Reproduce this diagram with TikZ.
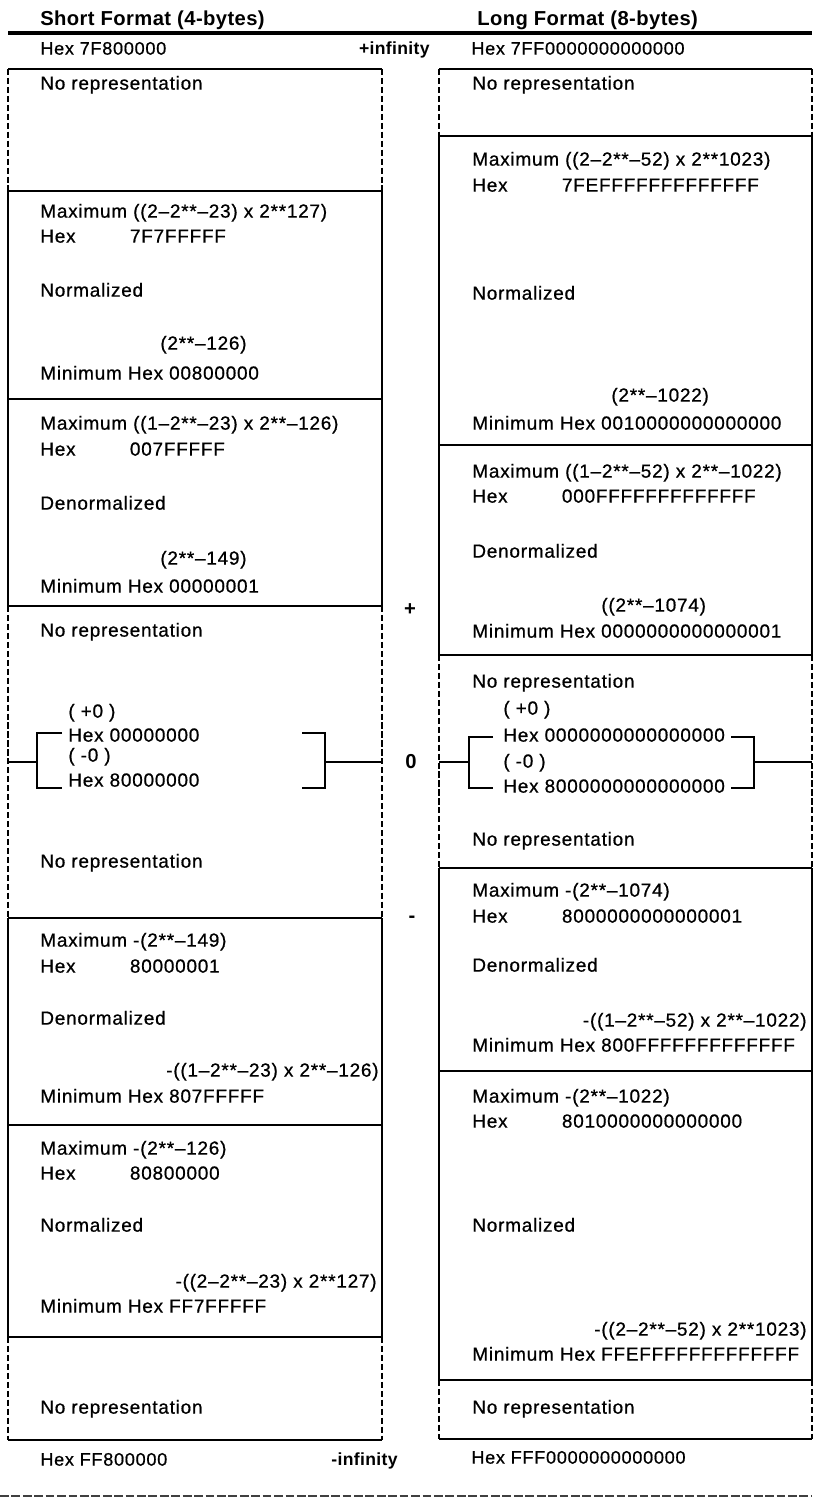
\documentclass[tikz,border=0pt]{standalone}
\usepackage{fontspec}
\usepackage{tikz}
\setmainfont{Liberation Sans}
\newfontfamily\boxfamily[LetterSpace=4, FakeBold=0.7]{Liberation Sans}
\newfontfamily\headfamily[LetterSpace=2]{Liberation Sans}
\newcommand{\boxsize}{\boxfamily\fontsize{10.8pt}{13pt}\selectfont}
\newcommand{\edgesize}{\boxfamily\fontsize{10.3pt}{12pt}\selectfont}
\newcommand{\headsize}{\headfamily\bfseries\fontsize{11.5pt}{14pt}\selectfont}
\newcommand{\signsize}{\headfamily\bfseries\fontsize{10pt}{12pt}\selectfont}
\newcommand{\bigsignsize}{\headfamily\bfseries\fontsize{11.5pt}{13pt}\selectfont}
\newcommand{\hexrow}[1]{\makebox[51pt][l]{Hex}#1}
\tikzset{
  txt/.style={anchor=mid west, inner sep=0pt, font=\boxsize},
  txtr/.style={anchor=mid east, inner sep=0pt, font=\boxsize},
  edgetxt/.style={anchor=mid west, inner sep=0pt, font=\edgesize},
  headtxt/.style={anchor=mid west, inner sep=0pt, font=\headsize},
  signtxt/.style={inner sep=0pt, font=\bigsignsize},
  inftxt/.style={anchor=mid east, inner sep=0pt, font=\signsize},
  solidline/.style={line width=1pt},
  dashline/.style={line width=1pt, dash pattern=on 3.5pt off 1.6pt},
}

\begin{document}
\begin{tikzpicture}[x=0.02cm, y=-0.02cm]%
\useasboundingbox (0,0) rectangle (812,1500);%
% headings
\node[headtxt] (shortHead) at (40,21) {Short Format (4-bytes)};%
\node[headtxt] (longHead) at (477,21) {Long Format (8-bytes)};%
\draw[line width=2.4pt] (8,33) -- (812,33);%
\node[edgetxt] (sTopHex) at (40,50) {Hex 7F800000};%
\node[edgetxt] (lTopHex) at (471,50) {Hex 7FF0000000000000};%
\node[inftxt] (plusInf) at (430,50) {+infinity};%
\node[signtxt] (plusSign) at (410,610) {+};%
\node[signtxt] (zeroSign) at (411,762) {0};%
\node[signtxt] (minusSign) at (412,919) {-};%
\node[inftxt] (minusInf) at (398,1461) {-infinity};%
\node[edgetxt] (sBotHex) at (40,1461) {Hex FF800000};%
\node[edgetxt] (lBotHex) at (471,1459) {Hex FFF0000000000000};%
%
% short format boxes
\foreach \y in {69,191,399,606,918,1125,1337,1440}
  \draw[solidline] (8,\y) -- (382,\y);%
\foreach \a/\b in {69/191,606/918,1337/1440} {
  \draw[dashline] (8,\a) -- (8,\b);
  \draw[dashline] (382,\a) -- (382,\b);}%
\foreach \a/\b in {191/606,918/1337} {
  \draw[solidline] (8,\a) -- (8,\b);
  \draw[solidline] (382,\a) -- (382,\b);}%
%
% long format boxes
\foreach \y in {69,136,445,655,868,1071,1380,1439}
  \draw[solidline] (439,\y) -- (812,\y);%
\foreach \a/\b in {69/136,655/868,1380/1439} {
  \draw[dashline] (439,\a) -- (439,\b);
  \draw[dashline] (812,\a) -- (812,\b);}%
\foreach \a/\b in {136/655,868/1380} {
  \draw[solidline] (439,\a) -- (439,\b);
  \draw[solidline] (812,\a) -- (812,\b);}%
%
% short format texts
\node[txt] (sNoRepA) at (40,85) {No representation};%
\node[txt] (sNormMax) at (40,213) {Maximum ((2–2**–23) x 2**127)};%
\node[txt] (sNormMaxHex) at (40,238) {\hexrow{7F7FFFFF}};%
\node[txt] (sNorm) at (40,292) {Normalized};%
\node[txt] (sNormMinVal) at (160,345) {(2**–126)};%
\node[txt] (sNormMin) at (40,375) {Minimum Hex 00800000};%
\node[txt] (sDenMax) at (40,425) {Maximum ((1–2**–23) x 2**–126)};%
\node[txt] (sDenMaxHex) at (40,451) {\hexrow{007FFFFF}};%
\node[txt] (sDen) at (40,505) {Denormalized};%
\node[txt] (sDenMinVal) at (160,560) {(2**–149)};%
\node[txt] (sDenMin) at (40,588) {Minimum Hex 00000001};%
\node[txt] (sNoRepB) at (40,632) {No representation};%
\node[txt] (sPosZero) at (68,713) {( +0 )};%
\node[txt] (sPosZeroHex) at (68,737) {Hex 00000000};%
\node[txt] (sNegZero) at (68,757) {( -0 )};%
\node[txt] (sNegZeroHex) at (68,782) {Hex 80000000};%
\node[txt] (sNoRepC) at (40,863) {No representation};%
\node[txt] (sNDenMax) at (40,942) {Maximum -(2**–149)};%
\node[txt] (sNDenMaxHex) at (40,968) {\hexrow{80000001}};%
\node[txt] (sNDen) at (40,1020) {Denormalized};%
\node[txtr] (sNDenMinVal) at (379,1072) {-((1–2**–23) x 2**–126)};%
\node[txt] (sNDenMin) at (40,1098) {Minimum Hex 807FFFFF};%
\node[txt] (sNNormMax) at (40,1150) {Maximum -(2**–126)};%
\node[txt] (sNNormMaxHex) at (40,1175) {\hexrow{80800000}};%
\node[txt] (sNNorm) at (40,1227) {Normalized};%
\node[txtr] (sNNormMinVal) at (377,1283) {-((2–2**–23) x 2**127)};%
\node[txt] (sNNormMin) at (40,1308) {Minimum Hex FF7FFFFF};%
\node[txt] (sNoRepD) at (40,1409) {No representation};%
%
% long format texts
\node[txt] (lNoRepA) at (472,85) {No representation};%
\node[txt] (lNormMax) at (472,161) {Maximum ((2–2**–52) x 2**1023)};%
\node[txt] (lNormMaxHex) at (472,187) {\hexrow{7FEFFFFFFFFFFFFF}};%
\node[txt] (lNorm) at (472,295) {Normalized};%
\node[txt] (lNormMinVal) at (611,397) {(2**–1022)};%
\node[txt] (lNormMin) at (472,425) {Minimum Hex 0010000000000000};%
\node[txt] (lDenMax) at (472,473) {Maximum ((1–2**–52) x 2**–1022)};%
\node[txt] (lDenMaxHex) at (472,498) {\hexrow{000FFFFFFFFFFFFF}};%
\node[txt] (lDen) at (472,553) {Denormalized};%
\node[txt] (lDenMinVal) at (601,607) {((2**–1074)};%
\node[txt] (lDenMin) at (472,633) {Minimum Hex 0000000000000001};%
\node[txt] (lNoRepB) at (472,683) {No representation};%
\node[txt] (lPosZero) at (503,710) {( +0 )};%
\node[txt] (lPosZeroHex) at (503,737) {Hex 0000000000000000};%
\node[txt] (lNegZero) at (503,763) {( -0 )};%
\node[txt] (lNegZeroHex) at (503,788) {Hex 8000000000000000};%
\node[txt] (lNoRepC) at (472,841) {No representation};%
\node[txt] (lNDenMax) at (472,892) {Maximum -(2**–1074)};%
\node[txt] (lNDenMaxHex) at (472,918) {\hexrow{8000000000000001}};%
\node[txt] (lNDen) at (472,967) {Denormalized};%
\node[txtr] (lNDenMinVal) at (807,1022) {-((1–2**–52) x 2**–1022)};%
\node[txt] (lNDenMin) at (472,1047) {Minimum Hex 800FFFFFFFFFFFFF};%
\node[txt] (lNNormMax) at (472,1098) {Maximum -(2**–1022)};%
\node[txt] (lNNormMaxHex) at (472,1123) {\hexrow{8010000000000000}};%
\node[txt] (lNNorm) at (472,1227) {Normalized};%
\node[txtr] (lNNormMinVal) at (807,1331) {-((2–2**–52) x 2**1023)};%
\node[txt] (lNNormMin) at (472,1356) {Minimum Hex FFEFFFFFFFFFFFFF};%
\node[txt] (lNoRepD) at (472,1409) {No representation};%
%
% zero brackets
\draw[solidline] (8,762) -- (37,762);%
\draw[solidline] (62,733) -- (37,733) -- (37,788) -- (62,788);%
\draw[solidline] (302,733) -- (325,733) -- (325,788) -- (302,788);%
\draw[solidline] (325,762) -- (382,762);%
\draw[solidline] (439,762) -- (469,762);%
\draw[solidline] (493,737) -- (469,737) -- (469,788) -- (493,788);%
\draw[solidline] (731,737) -- (754,737) -- (754,788) -- (731,788);%
\draw[solidline] (754,762) -- (812,762);%
%
\draw[line width=1.4pt, black!75, dash pattern=on 5pt off 1.5pt] (0,1496) -- (812,1496);%
\end{tikzpicture}
\end{document}
